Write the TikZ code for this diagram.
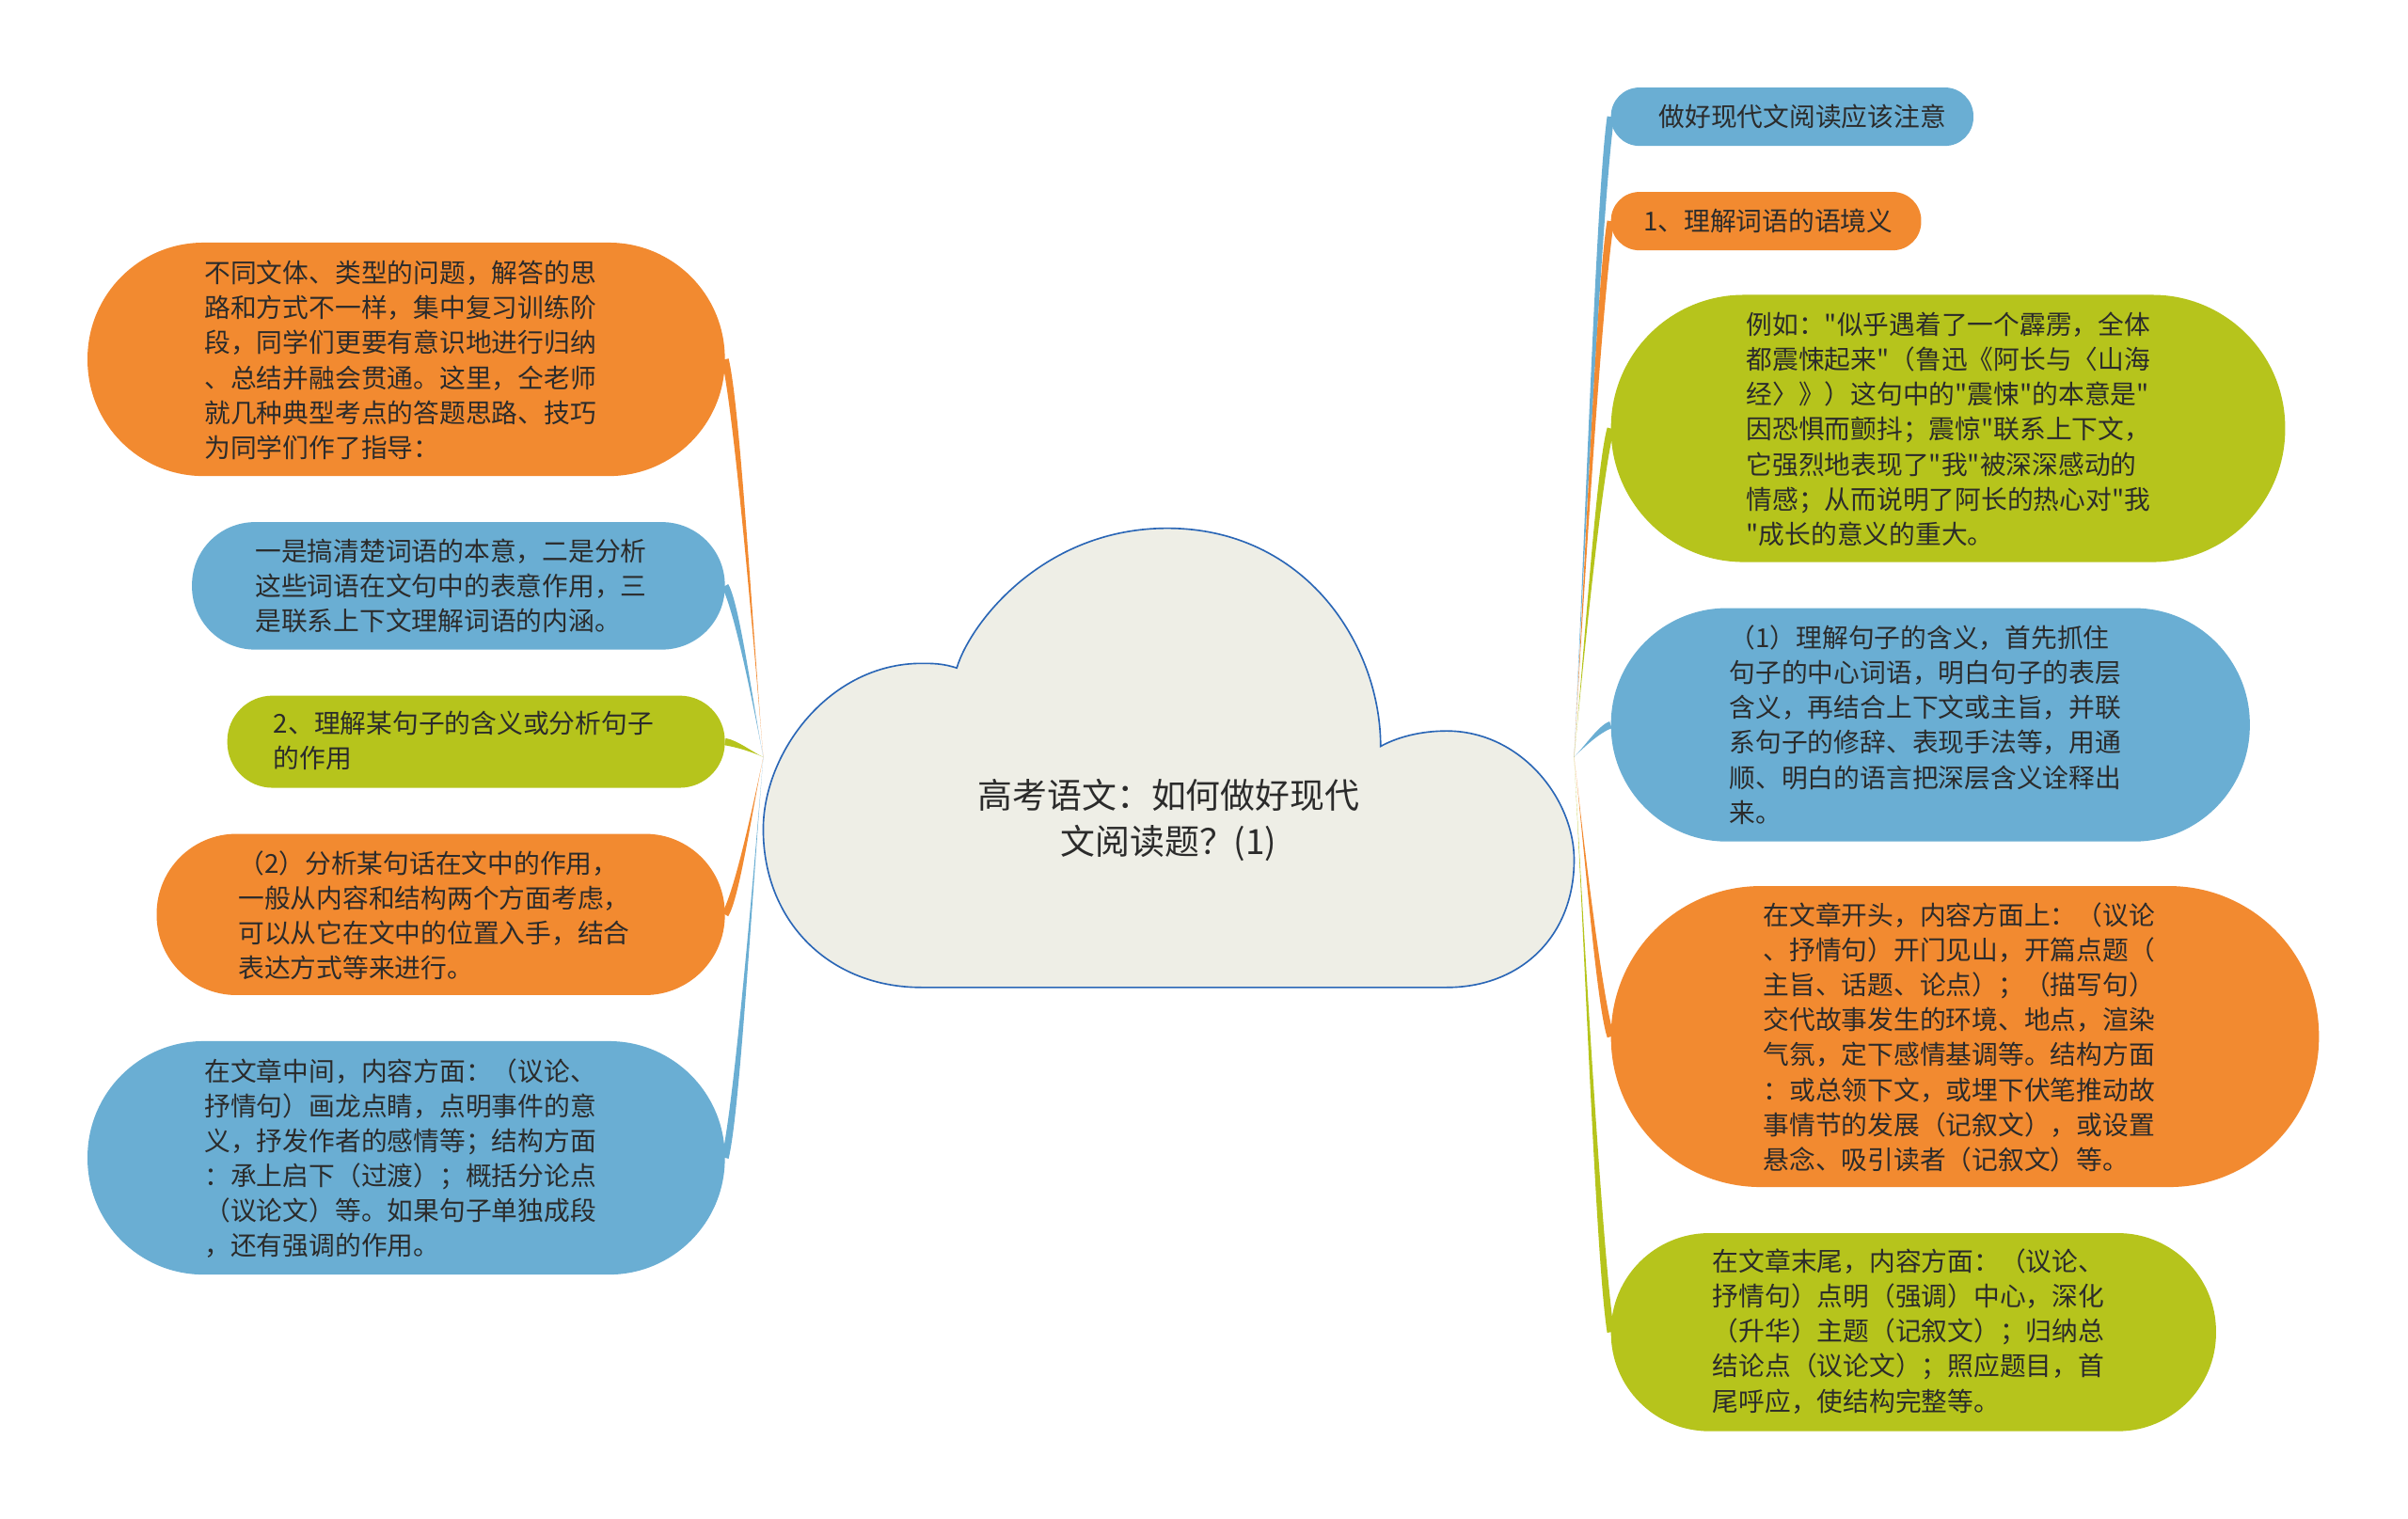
\documentclass[tikz,border=0pt]{standalone}
\usepackage{fontspec}
\newfontfamily\cjk{Noto Sans CJK SC}
\usetikzlibrary{calc}
\definecolor{oran}{HTML}{F28A30}
\definecolor{blu}{HTML}{6AAED3}
\definecolor{grn}{HTML}{B6C41C}
\definecolor{cloudfill}{HTML}{EEEEE6}
\definecolor{cloudline}{HTML}{2A66B6}
\definecolor{ink}{HTML}{2B2B2B}
\pgfdeclarelayer{back}
\pgfdeclarelayer{bg}
\pgfsetlayers{back,bg,main}
\tikzset{
  box/.style={rectangle, draw=none, inner sep=0pt},
  txt/.style={anchor=west, align=left, inner sep=0pt, text=ink, font=\cjk\fontsize{17}{22.7}\selectfont},
}
\newcommand\mybranch[3]{%
  \fill[#1] let \p1=(#2), \p2=(#3), \n1={\x2-\x1}, \n2={\y2-\y1},
    \n3={veclen(0.3*(\n1),0.12*(\n2))},
    \n4={-2.3*0.12*(\n2)/(\n3)}, \n5={2.3*0.3*(\n1)/(\n3)}
  in (\p1) .. controls ({\x1+0.3*(\n1)},{\y1+0.35*(\n2)}) and ({\x2-0.3*(\n1)+(\n4)},{\y2-0.12*(\n2)+(\n5)}) .. ({\x2+(\n4)},{\y2+(\n5)})
     -- ({\x2-(\n4)},{\y2-(\n5)}) .. controls ({\x2-0.3*(\n1)-(\n4)},{\y2-0.12*(\n2)-(\n5)}) and ({\x1+0.3*(\n1)},{\y1+0.35*(\n2)}) .. (\p1) -- cycle;}
\begin{document}
\begin{tikzpicture}[x=1pt,y=1pt]
\useasboundingbox (0,0) rectangle (1568,-989);
\begin{pgfonlayer}{back}
\fill[white] (0,0) rectangle (1568,-989);
\end{pgfonlayer}
\coordinate (hubL) at (497,-493);
\coordinate (hubR) at (1025,-493);

% central cloud
\draw[cloudline, fill=cloudfill, line width=1pt]
  (600,-643) -- (942,-643)
  .. controls (990,-643) and (1025,-610) .. (1025,-560)
  .. controls (1025,-520) and (990,-476) .. (942,-476)
  .. controls (925,-476) and (910,-480) .. (899,-486)
  .. controls (899,-420) and (850,-344) .. (760,-344)
  .. controls (680,-344) and (632,-405) .. (623,-435)
  .. controls (614,-432) and (607,-432) .. (600,-432)
  .. controls (540,-432) and (497,-490) .. (497,-540)
  .. controls (497,-600) and (540,-643) .. (600,-643) -- cycle;
\node[align=center, inner sep=0pt, text=ink, font=\cjk\fontsize{22.6}{30}\selectfont] (title) at (761,-534) {高考语文：如何做好现代\\文阅读题？(1)};

% left boxes
\node[box, fill=oran, minimum width=415pt, minimum height=152pt, rounded corners=75.5pt] (L1) at (264.5,-234) {};
\node[box, fill=blu, minimum width=347pt, minimum height=83pt, rounded corners=41pt] (L2) at (298.5,-381.5) {};
\node[box, fill=grn, minimum width=324pt, minimum height=60pt, rounded corners=29.5pt] (L3) at (310,-483) {};
\node[box, fill=oran, minimum width=370pt, minimum height=105pt, rounded corners=52pt] (L4) at (287,-595.5) {};
\node[box, fill=blu, minimum width=415pt, minimum height=152pt, rounded corners=75.5pt] (L5) at (264.5,-754) {};

% right boxes
\node[box, fill=blu, minimum width=236pt, minimum height=38pt, rounded corners=18.5pt] (R1) at (1167,-76) {};
\node[box, fill=oran, minimum width=202pt, minimum height=38pt, rounded corners=18.5pt] (R2) at (1150,-144) {};
\node[box, fill=grn, minimum width=439pt, minimum height=174pt, rounded corners=86.5pt] (R3) at (1268.5,-279) {};
\node[box, fill=blu, minimum width=416pt, minimum height=152pt, rounded corners=75.5pt] (R4) at (1257,-472) {};
\node[box, fill=oran, minimum width=461pt, minimum height=196pt, rounded corners=97.5pt] (R5) at (1279.5,-675) {};
\node[box, fill=grn, minimum width=394pt, minimum height=129pt, rounded corners=64pt] (R6) at (1246,-867.5) {};

% connectors
\begin{pgfonlayer}{bg}
\mybranch{oran}{hubL}{L1.east}
\mybranch{blu}{hubL}{L2.east}
\mybranch{grn}{hubL}{L3.east}
\mybranch{oran}{hubL}{L4.east}
\mybranch{blu}{hubL}{L5.east}
\mybranch{blu}{hubR}{R1.west}
\mybranch{oran}{hubR}{R2.west}
\mybranch{grn}{hubR}{R3.west}
\mybranch{blu}{hubR}{R4.west}
\mybranch{oran}{hubR}{R5.west}
\mybranch{grn}{hubR}{R6.west}
\end{pgfonlayer}

% texts
\node[txt] (tL1) at (133,-234.5) {不同文体、类型的问题，解答的思\\路和方式不一样，集中复习训练阶\\段，同学们更要有意识地进行归纳\\、总结并融会贯通。这里，仝老师\\就几种典型考点的答题思路、技巧\\为同学们作了指导：};
\node[txt] (tL2) at (166,-381.5) {一是搞清楚词语的本意，二是分析\\这些词语在文句中的表意作用，三\\是联系上下文理解词语的内涵。};
\node[txt] (tL3) at (178,-482.5) {2、理解某句子的含义或分析句子\\的作用};
\node[txt] (tL4) at (155,-596) {（2）分析某句话在文中的作用，\\一般从内容和结构两个方面考虑，\\可以从它在文中的位置入手，结合\\表达方式等来进行。};
\node[txt] (tL5) at (133,-754.5) {在文章中间，内容方面：（议论、\\抒情句）画龙点睛，点明事件的意\\义，抒发作者的感情等；结构方面\\：承上启下（过渡）；概括分论点\\（议论文）等。如果句子单独成段\\，还有强调的作用。};

\node[txt] (tR1) at (1080,-76) {做好现代文阅读应该注意};
\node[txt] (tR2) at (1070,-144) {1、理解词语的语境义};
\node[txt] (tR3) at (1137,-279.5) {例如："似乎遇着了一个霹雳，全体\\都震悚起来"（鲁迅《阿长与〈山海\\经〉》）这句中的"震悚"的本意是"\\因恐惧而颤抖；震惊"联系上下文，\\它强烈地表现了"我"被深深感动的\\情感；从而说明了阿长的热心对"我\\"成长的意义的重大。};
\node[txt] (tR4) at (1126,-472) {（1）理解句子的含义，首先抓住\\句子的中心词语，明白句子的表层\\含义，再结合上下文或主旨，并联\\系句子的修辞、表现手法等，用通\\顺、明白的语言把深层含义诠释出\\来。};
\node[txt] (tR5) at (1148,-675.5) {在文章开头，内容方面上：（议论\\、抒情句）开门见山，开篇点题（\\主旨、话题、论点）；（描写句）\\交代故事发生的环境、地点，渲染\\气氛，定下感情基调等。结构方面\\：或总领下文，或埋下伏笔推动故\\事情节的发展（记叙文），或设置\\悬念、吸引读者（记叙文）等。};
\node[txt] (tR6) at (1115,-867) {在文章末尾，内容方面：（议论、\\抒情句）点明（强调）中心，深化\\（升华）主题（记叙文）；归纳总\\结论点（议论文）；照应题目，首\\尾呼应，使结构完整等。};
\end{tikzpicture}
\end{document}
